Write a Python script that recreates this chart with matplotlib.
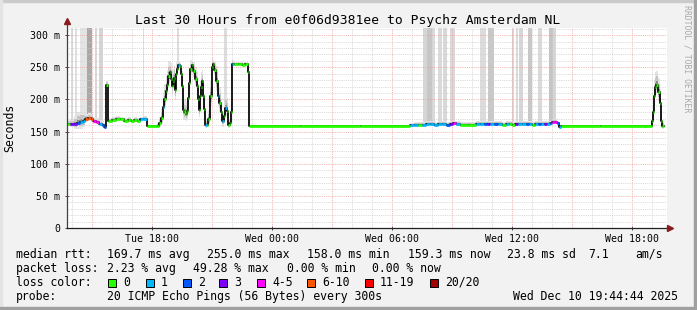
import numpy as np
import matplotlib
matplotlib.use("Agg")
import matplotlib.pyplot as plt
from matplotlib.collections import LineCollection
from matplotlib.patches import Rectangle

# time axis: hours since graph start (Tue 13:45), 30 hours shown
hours = [
    0.00, 0.15, 0.35, 0.50, 0.65, 0.80, 0.90, 1.05, 1.20, 1.30, 1.45, 1.60, 1.75, 1.85,
    1.95, 2.05, 2.25, 2.45, 2.65, 2.85, 3.05, 3.20, 3.35, 3.50, 3.65, 3.80,
    4.00, 4.50, 4.60, 4.70, 4.80, 4.85, 4.95, 5.00, 5.05, 5.15, 5.20, 5.25, 5.30, 5.35,
    5.40, 5.45, 5.50, 5.55, 5.65, 5.70, 5.75, 5.80, 5.85, 5.95, 6.00,
    6.05, 6.10, 6.15, 6.25, 6.30, 6.40, 6.50, 6.55, 6.60, 6.65, 6.70, 6.75, 6.80, 6.85, 6.90,
    7.00, 7.05, 7.15, 7.25, 7.30, 7.35, 7.45, 7.55, 7.60, 7.70, 7.75, 7.85, 7.90, 8.00, 8.05, 8.15, 8.20,
    8.25, 8.35, 8.55, 8.75, 8.90, 9.05,
    9.10, 11.65, 14.65,
    17.15, 17.35, 17.55, 17.75, 17.95, 18.15, 18.35, 18.55, 18.75, 18.95, 19.15, 19.30, 19.45, 19.65, 20.05,
    20.45, 20.65, 20.85, 21.00, 21.15, 21.35, 21.55, 21.75, 21.95, 22.10, 22.25, 22.40, 22.55, 22.75, 22.95,
    23.10, 23.25, 23.40, 23.55, 23.70, 23.85, 24.00, 24.15, 24.25, 24.40, 24.50, 24.60, 24.70, 26.65,
    29.20, 29.25, 29.30, 29.35, 29.40, 29.45, 29.55, 29.65, 29.70, 29.75, 29.85,
]
# median rtt in ms
median = [
    162, 162, 162, 164, 165, 166, 170, 171, 170, 166, 165, 162, 160, 157,
    223, 167, 168, 170, 169, 167, 168, 166, 168, 167, 169, 170,
    158, 159, 163, 171, 188, 200, 213, 222, 236, 242, 232, 221, 228, 234,
    214, 240, 247, 253, 252, 240, 221, 184, 180, 178, 182,
    203, 225, 247, 254, 244, 232, 221, 200, 184, 205, 219, 228, 205, 185, 161,
    160, 169, 205, 250, 255, 246, 228, 205, 195, 180, 166, 175, 187, 182, 161, 163, 180,
    255, 255, 255, 254, 255, 242,
    158, 158, 158,
    160, 161, 161, 161, 162, 162, 161, 162, 162, 161, 162, 163, 162, 161, 161,
    162, 162, 162, 162, 162, 162, 162, 161, 162, 162, 161, 162, 162, 162, 162,
    162, 161, 162, 162, 162, 162, 162, 163, 165, 165, 163, 157, 158, 158,
    159, 166, 180, 205, 219, 223, 211, 195, 166, 159, 159,
]
# loss category index (0 -> "0", 1 -> "1", ..., 4 -> "4-5", 5 -> "6-10")
loss = [
    0, 3, 3, 2, 1, 1, 5, 5, 5, 4, 4, 1, 2, 2,
    0, 0, 0, 0, 0, 0, 0, 0, 0, 0, 1, 1,
    0, 0, 0, 0, 1, 0, 0, 0, 0, 0, 0, 0, 0, 0,
    0, 0, 0, 1, 0, 0, 0, 0, 0, 0, 0,
    0, 0, 0, 0, 0, 0, 0, 0, 0, 0, 0, 0, 0, 0, 1,
    0, 0, 0, 0, 0, 0, 0, 1, 0, 0, 1, 0, 1, 0, 0, 0, 0,
    1, 0, 0, 0, 0, 0,
    0, 0, 0,
    1, 1, 0, 1, 1, 1, 1, 1, 1, 2, 3, 4, 1, 0, 0,
    1, 1, 2, 3, 1, 2, 1, 0, 1, 0, 0, 3, 1, 1, 2,
    1, 0, 1, 2, 1, 3, 1, 2, 4, 4, 2, 1, 0, 0,
    0, 0, 0, 0, 0, 0, 0, 0, 0, 0, 0,
]
# spread of the smoke around the median (ms)
smoke = [
    3, 4, 6, 8, 9, 8, 4, 4, 4, 3, 3, 3, 3, 3,
    3, 2, 2, 2, 2, 2, 2, 2, 2, 2, 2, 2,
    1, 2, 5, 8, 11, 12, 12, 12, 12, 9, 12, 12, 10, 10,
    12, 9, 7, 3, 3, 7, 12, 12, 10, 10, 10,
    12, 12, 7, 3, 7, 9, 12, 12, 10, 12, 12, 9, 12, 12, 4,
    2, 7, 12, 7, 3, 7, 12, 12, 12, 10, 7, 10, 10, 10, 4, 4, 10,
    3, 2, 2, 2, 2, 5,
    1, 1, 1,
    2, 2, 2, 2, 2, 2, 2, 2, 2, 2, 2, 2, 2, 2, 2,
    2, 2, 2, 2, 2, 2, 2, 2, 2, 2, 2, 2, 2, 2, 2,
    2, 2, 2, 2, 2, 2, 2, 2, 2, 2, 2, 2, 1, 1,
    3, 6, 9, 12, 12, 11, 11, 11, 9, 4, 2,
]

# tall smoke columns (outlier pings above the graph top)
band_start = [0.20, 0.40, 0.65, 1.01, 1.40, 1.60, 3.78, 5.48, 7.86,
              17.78, 18.01, 18.23, 18.53, 18.78, 19.15, 20.65, 21.03,
              22.23, 22.45, 22.61, 23.03, 23.56, 24.11, 24.31]
band_width = [0.08, 0.10, 0.33, 0.24, 0.10, 0.18, 0.08, 0.10, 0.12,
              0.23, 0.22, 0.17, 0.20, 0.23, 0.25, 0.30, 0.32,
              0.12, 0.12, 0.17, 0.20, 0.17, 0.20, 0.14]
band_base = [168, 168, 170, 172, 168, 166, 172, 252, 185,
             163, 163, 163, 163, 163, 164, 164, 164,
             163, 163, 163, 163, 163, 164, 164]
band_gray = ['#dcdcdc', '#e0e0e0', '#e4e4e4', '#a8a8a8', '#d8d8d8', '#d4d4d4', '#dddddd', '#dddddd', '#dddddd',
             '#d6d6d6', '#c6c6c6', '#dadada', '#dadada', '#d8d8d8', '#dadada', '#dcdcdc', '#c8c8c8',
             '#dadada', '#dadada', '#d6d6d6', '#c8c8c8', '#dadada', '#c4c4c4', '#d6d6d6']

y_ticks = [0, 50, 100, 150, 200, 250, 300]
y_tick_labels = ['0', '50 m', '100 m', '150 m', '200 m', '250 m', '300 m']
x_ticks = [4.25, 10.25, 16.25, 22.25, 28.25]
x_tick_labels = ['Tue 18:00', 'Wed 00:00', 'Wed 06:00', 'Wed 12:00', 'Wed 18:00']

loss_names = ['0', '1', '2', '3', '4-5', '6-10', '11-19', '20/20']
loss_colors = ['#26ff00', '#00b8ff', '#0059ff', '#7e00ff', '#ff00ff', '#ff5500', '#ff0000', '#a10000']

title = 'Last 30 Hours from e0f06d9381ee to Psychz Amsterdam NL'
rtt_row = [('median rtt:', 16), ('169.7 ms avg', 107), ('255.0 ms max', 207), ('158.0 ms min', 307),
           ('159.3 ms now', 408), ('23.8 ms sd', 507), ('7.1', 588), ('am/s', 635)]
loss_row = [('packet loss:', 16), ('2.23 % avg', 107), ('49.28 % max', 193),
            ('0.00 % min', 287), ('0.00 % now', 372)]
loss_box_x = [108, 146, 183, 219, 257, 307, 365, 430]
probe_row = [('probe:', 16), ('20 ICMP Echo Pings (56 Bytes) every 300s', 107),
             ('Wed Dec 10 19:44:44 2025', 513)]

W, H = 697, 310
plt.rcParams['font.family'] = 'DejaVu Sans Mono'


def fx(x):
    return x / W


def fy(y):
    return 1 - y / H


fig = plt.figure(figsize=(W / 100, H / 100), dpi=100, facecolor='#f2f2f2')

# 3d-ish frame
fig.patches.append(Rectangle((0, fy(2)), 1, 2 / H, transform=fig.transFigure, color='#cbcbcb', zorder=0))
fig.patches.append(Rectangle((0, 0), 2 / W, 1, transform=fig.transFigure, color='#e4e4e4', zorder=0))
fig.patches.append(Rectangle((fx(694), 0), 3 / W, 1, transform=fig.transFigure, color='#a0a0a0', zorder=0))
fig.patches.append(Rectangle((0, 0), 1, 3 / H, transform=fig.transFigure, color='#a0a0a0', zorder=0))

ymax = 312
ax = fig.add_axes([fx(67), fy(228), 600 / W, (228 - 27.5) / H])
ax.set_facecolor('white')
ax.set_xlim(0, 30)
ax.set_ylim(0, ymax)
for s in ax.spines.values():
    s.set_visible(False)

# grid
for h in np.arange(0.25, 30, 1):
    major = abs((h - 1.25) % 3) < 1e-6
    ax.axvline(h, color='#f0a0a0' if major else '#cfcfcf', lw=0.6,
               ls=(0, (1, 1.2)), zorder=2.5)
for v in range(10, ymax, 10):
    ax.axhline(v, color='#f0a0a0' if v % 50 == 0 else '#cfcfcf', lw=0.6,
               ls=(0, (1, 1.2)), zorder=2.5)

# tall smoke columns
ax.bar(band_start, [ymax - b for b in band_base], width=band_width, bottom=band_base,
       align='edge', color=band_gray, linewidth=0, zorder=1)

t = np.array(hours)
m = np.array(median, dtype=float)
sp = np.array(smoke, dtype=float)
ax.fill_between(t, m - sp * 1.2, m + sp * 2.0, step='post', color='#e4e4e4', lw=0, zorder=1.2)
ax.fill_between(t, m - sp * 0.7, m + sp * 1.2, step='post', color='#c4c4c4', lw=0, zorder=1.3)
ax.fill_between(t, m - sp * 0.3, m + sp * 0.5, step='post', color='#8a8a8a', lw=0, zorder=1.4)

# median line + loss colours
ax.plot(t, m, drawstyle='steps-post', color='black', lw=1.25, zorder=3)
segs = [[(hours[i], median[i]), (hours[i + 1], median[i])] for i in range(len(hours) - 1)]
cols = [loss_colors[loss[i]] for i in range(len(hours) - 1)]
ax.add_collection(LineCollection(segs, colors=cols, linewidths=2.0, capstyle='butt', zorder=4))

# axes with arrows
ax.plot([0, 0], [0, 1 + 6 / 200], transform=ax.transAxes, color='#404040', lw=0.9, clip_on=False, zorder=5)
ax.plot([0, 1 + 3 / 600], [0, 0], transform=ax.transAxes, color='#202020', lw=0.9, clip_on=False, zorder=5)
ax.plot([0], [1 + 6 / 200], transform=ax.transAxes, marker='^', ms=5, color='#8b1a1a', clip_on=False, zorder=6)
ax.plot([1 + 3 / 600], [0], transform=ax.transAxes, marker='>', ms=5, color='#8b1a1a', clip_on=False, zorder=6)

ax.set_yticks(y_ticks)
ax.set_yticklabels(y_tick_labels)
ax.set_xticks(x_ticks)
ax.set_xticklabels(x_tick_labels)
ax.set_xticks(np.arange(0.25, 30, 1), minor=True)
ax.tick_params(axis='y', direction='inout', length=3.5, width=0.7, color='#404040',
               pad=3, labelsize=7.1)
ax.tick_params(axis='x', which='major', direction='inout', length=3, width=0.7, color='#404040',
               pad=3, labelsize=7.1)
ax.tick_params(axis='x', which='minor', direction='in', length=0)

fig.text(fx(10), fy(128), 'Seconds', rotation=90, ha='center', va='center', fontsize=8.3)
fig.text(fx(348), fy(24), title, ha='center', va='baseline', fontsize=9.4)
fig.text(fx(687.5), fy(5), 'RRDTOOL / TOBI OETIKER', rotation=270, ha='center', va='top',
         fontsize=5.9, color='#a8a8a8')

for txt, x in rtt_row:
    fig.text(fx(x), fy(257.7), txt, ha='left', va='baseline', fontsize=8.3)
for txt, x in loss_row:
    fig.text(fx(x), fy(271.7), txt, ha='left', va='baseline', fontsize=8.3)
fig.text(fx(16), fy(285.7), 'loss color:', ha='left', va='baseline', fontsize=8.3)
for name, col, x in zip(loss_names, loss_colors, loss_box_x):
    fig.patches.append(Rectangle((fx(x), fy(287)), 8 / W, 8 / H, transform=fig.transFigure,
                                 facecolor=col, edgecolor='black', lw=0.7))
    fig.text(fx(x + 15), fy(285.7), name, ha='left', va='baseline', fontsize=8.3)
for txt, x in probe_row:
    fig.text(fx(x), fy(299.7), txt, ha='left', va='baseline', fontsize=8.3)

fig.savefig('out.png', dpi=100, facecolor=fig.get_facecolor())
